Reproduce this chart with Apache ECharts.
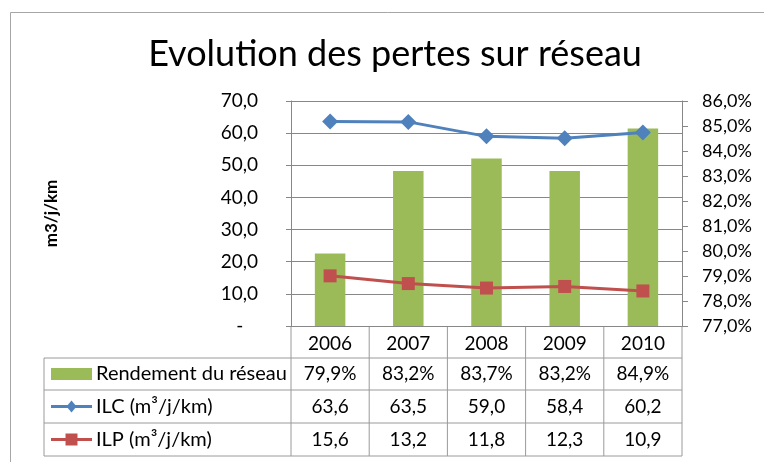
<!DOCTYPE html>
<html><head><meta charset="utf-8">
<script src="https://cdn.jsdelivr.net/npm/echarts@6/dist/echarts.min.js"></script>
<style>html,body{margin:0;padding:0;background:#fff}#c{width:764px;height:462px}</style>
</head><body><div id="c"></div>
<script>
const categories = ['2006', '2007', '2008', '2009', '2010'];
const rendement = [79.9, 83.2, 83.7, 83.2, 84.9];
const ilc = [63.6, 63.5, 59.0, 58.4, 60.2];
const ilp = [15.6, 13.2, 11.8, 12.3, 10.9];
const seriesNames = ['Rendement du réseau', 'ILC (m³/j/km)', 'ILP (m³/j/km)'];
const leftTicks = { min: 0, max: 70, interval: 10 };
const rightTicks = { min: 77, max: 86, interval: 1 };

const FONT = 'Lato';
const GREEN = '#9BBB59', BLUE = '#4F81BD', RED = '#C0504D';
const GRID = '#878787', TABLE = '#9a9a9a';
const fmt1 = v => v.toFixed(1).replace('.', ',');
const FS = 19;

const chart = echarts.init(document.getElementById('c'), null, { renderer: 'canvas' });
const option = {
  animation: false,
  backgroundColor: '#fff',
  title: {
    text: 'Evolution des pertes sur réseau',
    left: 390, top: 31, textAlign: 'center',
    textStyle: { fontFamily: FONT, fontSize: 36, fontWeight: 'normal', color: '#000' }
  },
  grid: { left: 291, right: 82, top: 101, bottom: 136 },
  xAxis: {
    type: 'category', data: categories, boundaryGap: true,
    axisLine: { lineStyle: { color: GRID, width: 1 } },
    axisTick: { show: false },
    axisLabel: { margin: 8, fontFamily: FONT, fontSize: FS, color: '#000' }
  },
  yAxis: [
    {
      type: 'value', ...leftTicks, position: 'left',
      name: 'm3/j/km', nameLocation: 'middle', nameGap: 231, nameRotate: 90,
      nameTextStyle: { fontFamily: FONT, fontSize: 17, fontWeight: 'bold', color: '#000' },
      axisLine: { show: true, lineStyle: { color: GRID } },
      axisTick: { show: true, length: 5, lineStyle: { color: GRID } },
      splitLine: { show: true, lineStyle: { color: GRID, width: 1 } },
      axisLabel: {
        margin: 33, fontFamily: FONT, fontSize: FS, color: '#000',
        formatter: v => v === 0 ? '-   ' : fmt1(v)
      }
    },
    {
      type: 'value', ...rightTicks, position: 'right',
      axisLine: { show: true, lineStyle: { color: GRID } },
      axisTick: { show: true, length: 6, lineStyle: { color: GRID } },
      splitLine: { show: false },
      axisLabel: {
        margin: 20, fontFamily: FONT, fontSize: 18, color: '#000',
        formatter: v => fmt1(v) + '%'
      }
    }
  ],
  series: [
    { name: seriesNames[0], type: 'bar', yAxisIndex: 1, data: rendement, barWidth: '39%',
      itemStyle: { color: GREEN }, clip: true },
    { name: seriesNames[1], type: 'line', yAxisIndex: 0, data: ilc,
      symbol: 'diamond', symbolSize: 16, lineStyle: { color: BLUE, width: 3 },
      itemStyle: { color: BLUE } },
    { name: seriesNames[2], type: 'line', yAxisIndex: 0, data: ilp,
      symbol: 'rect', symbolSize: 13, lineStyle: { color: RED, width: 3 },
      itemStyle: { color: RED } }
  ]
};
chart.setOption(option);

// Data table drawn below the plot, aligned with the category axis
const rowsY = [326, 358, 390, 423, 456];
const tableLeft = 44;
const x0 = chart.convertToPixel({ xAxisIndex: 0 }, 0);
const x1 = chart.convertToPixel({ xAxisIndex: 0 }, 1);
const step = x1 - x0;
const bounds = categories.map((c, i) => chart.convertToPixel({ xAxisIndex: 0 }, i) - step / 2);
bounds.push(bounds[bounds.length - 1] + step);
const right = bounds[bounds.length - 1];
const g = [];
const line = (a, b, c, d) => g.push({ type: 'line', shape: { x1: a, y1: b, x2: c, y2: d },
  style: { stroke: TABLE, lineWidth: 1 }, silent: true });
// outer frame
g.push({ type: 'rect', shape: { x: 10.5, y: 12.5, width: 900, height: 600 },
  style: { fill: null, stroke: '#a6a6a6', lineWidth: 1 }, silent: true, z: -1 });
bounds.forEach(b => line(b, rowsY[0], b, rowsY[4]));
line(tableLeft, rowsY[1], tableLeft, rowsY[4]);
for (let r = 1; r < rowsY.length; r++) line(tableLeft, rowsY[r], right, rowsY[r]);
const rowData = [rendement.map(v => fmt1(v) + '%'), ilc.map(fmt1), ilp.map(fmt1)];
rowData.forEach((row, r) => {
  const cy = (rowsY[r + 1] + rowsY[r + 2]) / 2;
  row.forEach((t, i) => g.push({ type: 'text', x: bounds[i] + step / 2, y: cy,
    style: { text: t, font: FS + 'px ' + FONT, fill: '#000', textAlign: 'center', textVerticalAlign: 'middle' }, silent: true }));
  g.push({ type: 'text', x: 96, y: cy, style: { text: seriesNames[r], font: '20px ' + FONT, fill: '#000',
    textAlign: 'left', textVerticalAlign: 'middle' }, silent: true });
});
// legend keys
const k0 = 51, k1 = 92, kc = (k0 + k1) / 2;
const cy1 = (rowsY[1] + rowsY[2]) / 2, cy2 = (rowsY[2] + rowsY[3]) / 2, cy3 = (rowsY[3] + rowsY[4]) / 2;
g.push({ type: 'rect', shape: { x: k0, y: cy1 - 6, width: k1 - k0, height: 12 }, style: { fill: GREEN }, silent: true });
g.push({ type: 'line', shape: { x1: k0, y1: cy2, x2: k1, y2: cy2 }, style: { stroke: BLUE, lineWidth: 3 }, silent: true });
g.push({ type: 'polygon', shape: { points: [[kc, cy2 - 6], [kc + 5, cy2], [kc, cy2 + 6], [kc - 5, cy2]] }, style: { fill: BLUE }, silent: true });
g.push({ type: 'line', shape: { x1: k0, y1: cy3, x2: k1, y2: cy3 }, style: { stroke: RED, lineWidth: 3 }, silent: true });
g.push({ type: 'rect', shape: { x: kc - 6, y: cy3 - 6, width: 12, height: 12 }, style: { fill: RED }, silent: true });
chart.setOption({ graphic: g });
</script></body></html>
